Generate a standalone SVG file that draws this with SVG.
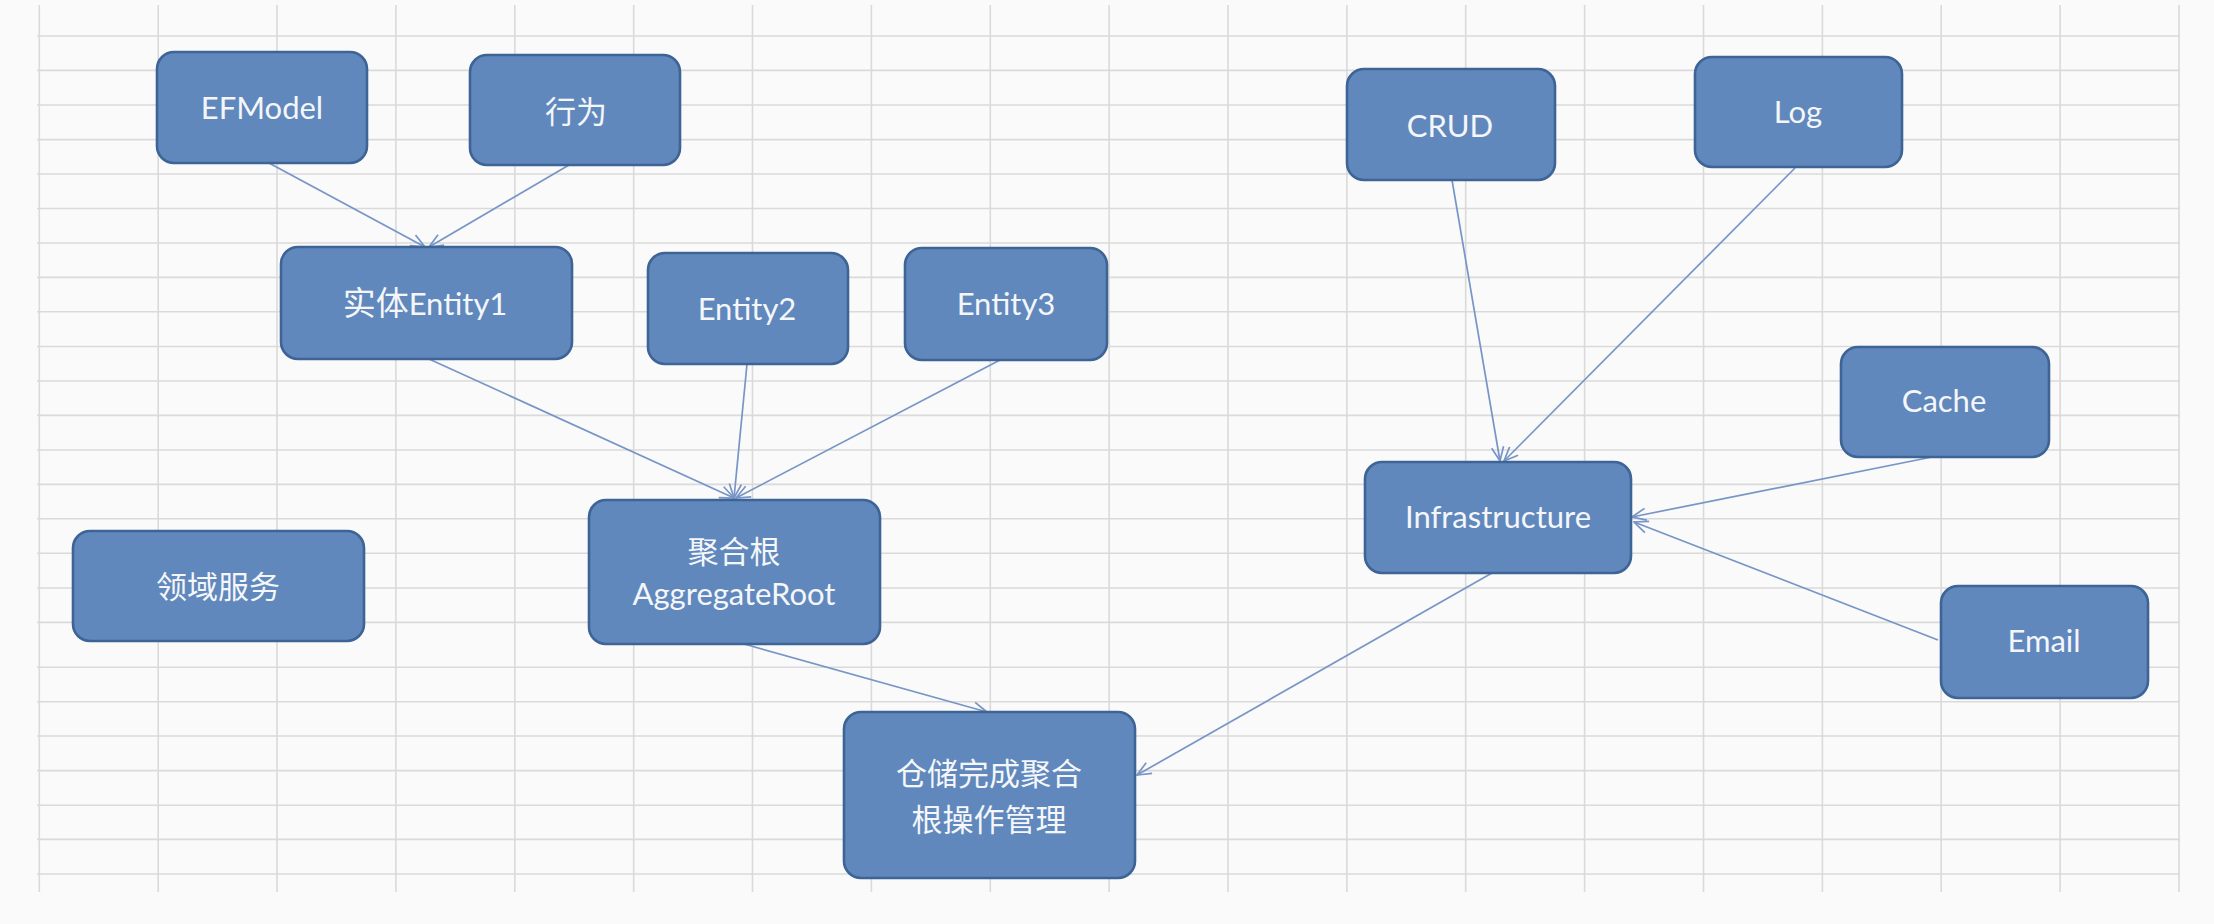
<svg xmlns="http://www.w3.org/2000/svg" width="2214" height="924" viewBox="0 0 2214 924">
<style>
.grid line{stroke:#dadada;stroke-width:1.6}
.node rect{fill:#6088bc;stroke:#3e6496;stroke-width:2.6}
.node text{fill:#f4f6fa;font-family:Lato,"Noto Sans CJK SC",sans-serif;font-size:31px;text-anchor:middle}
.cj{font-family:"Noto Sans CJK SC",sans-serif;font-size:33px}
.edges line{stroke:#7795c6;stroke-width:1.7;fill:none}
</style>
<defs>
<marker id="arr" viewBox="0 0 16 14" refX="15" refY="7" markerWidth="16" markerHeight="14" markerUnits="userSpaceOnUse" orient="auto">
<path d="M1,1 L15,7 L1,13" fill="none" stroke="#7795c6" stroke-width="1.7"/>
</marker>
</defs>
<rect width="2214" height="924" fill="#f9faf9"/>
<g class="grid">
<line x1="39.3" y1="5" x2="39.3" y2="892"/>
<line x1="158.2" y1="5" x2="158.2" y2="892"/>
<line x1="277" y1="5" x2="277" y2="892"/>
<line x1="395.9" y1="5" x2="395.9" y2="892"/>
<line x1="514.8" y1="5" x2="514.8" y2="892"/>
<line x1="633.7" y1="5" x2="633.7" y2="892"/>
<line x1="752.5" y1="5" x2="752.5" y2="892"/>
<line x1="871.4" y1="5" x2="871.4" y2="892"/>
<line x1="990.3" y1="5" x2="990.3" y2="892"/>
<line x1="1109.1" y1="5" x2="1109.1" y2="892"/>
<line x1="1228" y1="5" x2="1228" y2="892"/>
<line x1="1346.9" y1="5" x2="1346.9" y2="892"/>
<line x1="1465.7" y1="5" x2="1465.7" y2="892"/>
<line x1="1584.6" y1="5" x2="1584.6" y2="892"/>
<line x1="1703.5" y1="5" x2="1703.5" y2="892"/>
<line x1="1822.4" y1="5" x2="1822.4" y2="892"/>
<line x1="1941.2" y1="5" x2="1941.2" y2="892"/>
<line x1="2060.1" y1="5" x2="2060.1" y2="892"/>
<line x1="2179" y1="5" x2="2179" y2="892"/>
<line x1="37" y1="36" x2="2180" y2="36"/>
<line x1="37" y1="70.4" x2="2180" y2="70.4"/>
<line x1="37" y1="105" x2="2180" y2="105"/>
<line x1="37" y1="139.6" x2="2180" y2="139.6"/>
<line x1="37" y1="174" x2="2180" y2="174"/>
<line x1="37" y1="208.5" x2="2180" y2="208.5"/>
<line x1="37" y1="243" x2="2180" y2="243"/>
<line x1="37" y1="277.4" x2="2180" y2="277.4"/>
<line x1="37" y1="311.8" x2="2180" y2="311.8"/>
<line x1="37" y1="346.5" x2="2180" y2="346.5"/>
<line x1="37" y1="381" x2="2180" y2="381"/>
<line x1="37" y1="415.4" x2="2180" y2="415.4"/>
<line x1="37" y1="450" x2="2180" y2="450"/>
<line x1="37" y1="484.4" x2="2180" y2="484.4"/>
<line x1="37" y1="518.8" x2="2180" y2="518.8"/>
<line x1="37" y1="553.3" x2="2180" y2="553.3"/>
<line x1="37" y1="588" x2="2180" y2="588"/>
<line x1="37" y1="622.4" x2="2180" y2="622.4"/>
<line x1="37" y1="667.3" x2="2180" y2="667.3"/>
<line x1="37" y1="701.7" x2="2180" y2="701.7"/>
<line x1="37" y1="736" x2="2180" y2="736"/>
<line x1="37" y1="770.6" x2="2180" y2="770.6"/>
<line x1="37" y1="805.2" x2="2180" y2="805.2"/>
<line x1="37" y1="839.4" x2="2180" y2="839.4"/>
<line x1="37" y1="874" x2="2180" y2="874"/>
</g>
<g class="edges">
<line x1="269" y1="163" x2="425" y2="247" marker-end="url(#arr)"/>
<line x1="569" y1="165" x2="429" y2="247" marker-end="url(#arr)"/>
<line x1="429" y1="359" x2="734" y2="498" marker-end="url(#arr)"/>
<line x1="747" y1="364" x2="734" y2="498" marker-end="url(#arr)"/>
<line x1="1000" y1="360" x2="736" y2="498" marker-end="url(#arr)"/>
<line x1="744" y1="644" x2="987" y2="712" marker-end="url(#arr)"/>
<line x1="1492" y1="573" x2="1137" y2="775" marker-end="url(#arr)"/>
<line x1="1452" y1="180" x2="1500" y2="461" marker-end="url(#arr)"/>
<line x1="1795" y1="168" x2="1504" y2="461" marker-end="url(#arr)"/>
<line x1="1932" y1="457" x2="1632" y2="517" marker-end="url(#arr)"/>
<line x1="1938" y1="640" x2="1634" y2="522" marker-end="url(#arr)"/>
</g>
<g id="n-efmodel" class="node"><rect x="157" y="52" width="210" height="111" rx="17"/><text x="262" y="119">EFModel</text></g>
<g id="n-xingwei" class="node"><rect x="470" y="55" width="210" height="110" rx="17"/><text x="576" y="123" class="cj">行为</text></g>
<g id="n-entity1" class="node"><rect x="281" y="247" width="291" height="112" rx="17"/><text x="425" y="315"><tspan class="cj">实体</tspan>Entity1</text></g>
<g id="n-entity2" class="node"><rect x="648" y="253" width="200" height="111" rx="17"/><text x="747" y="320">Entity2</text></g>
<g id="n-entity3" class="node"><rect x="905" y="248" width="202" height="112" rx="17"/><text x="1006" y="315">Entity3</text></g>
<g id="n-aggregate" class="node"><rect x="589" y="500" width="291" height="144" rx="17"/><text x="734" y="563" class="cj">聚合根</text><text x="734" y="605">AggregateRoot</text></g>
<g id="n-domain-service" class="node"><rect x="73" y="531" width="291" height="110" rx="17"/><text x="218" y="598" class="cj">领域服务</text></g>
<g id="n-repository" class="node"><rect x="844" y="712" width="291" height="166" rx="17"/><text x="989" y="785" class="cj">仓储完成聚合</text><text x="989" y="831" class="cj">根操作管理</text></g>
<g id="n-crud" class="node"><rect x="1347" y="69" width="208" height="111" rx="17"/><text x="1450" y="137">CRUD</text></g>
<g id="n-log" class="node"><rect x="1695" y="57" width="207" height="110" rx="17"/><text x="1798" y="123">Log</text></g>
<g id="n-cache" class="node"><rect x="1841" y="347" width="208" height="110" rx="17"/><text x="1944" y="412">Cache</text></g>
<g id="n-infra" class="node"><rect x="1365" y="462" width="266" height="111" rx="17"/><text x="1498" y="528">Infrastructure</text></g>
<g id="n-email" class="node"><rect x="1941" y="586" width="207" height="112" rx="17"/><text x="2044" y="652">Email</text></g>
</svg>
